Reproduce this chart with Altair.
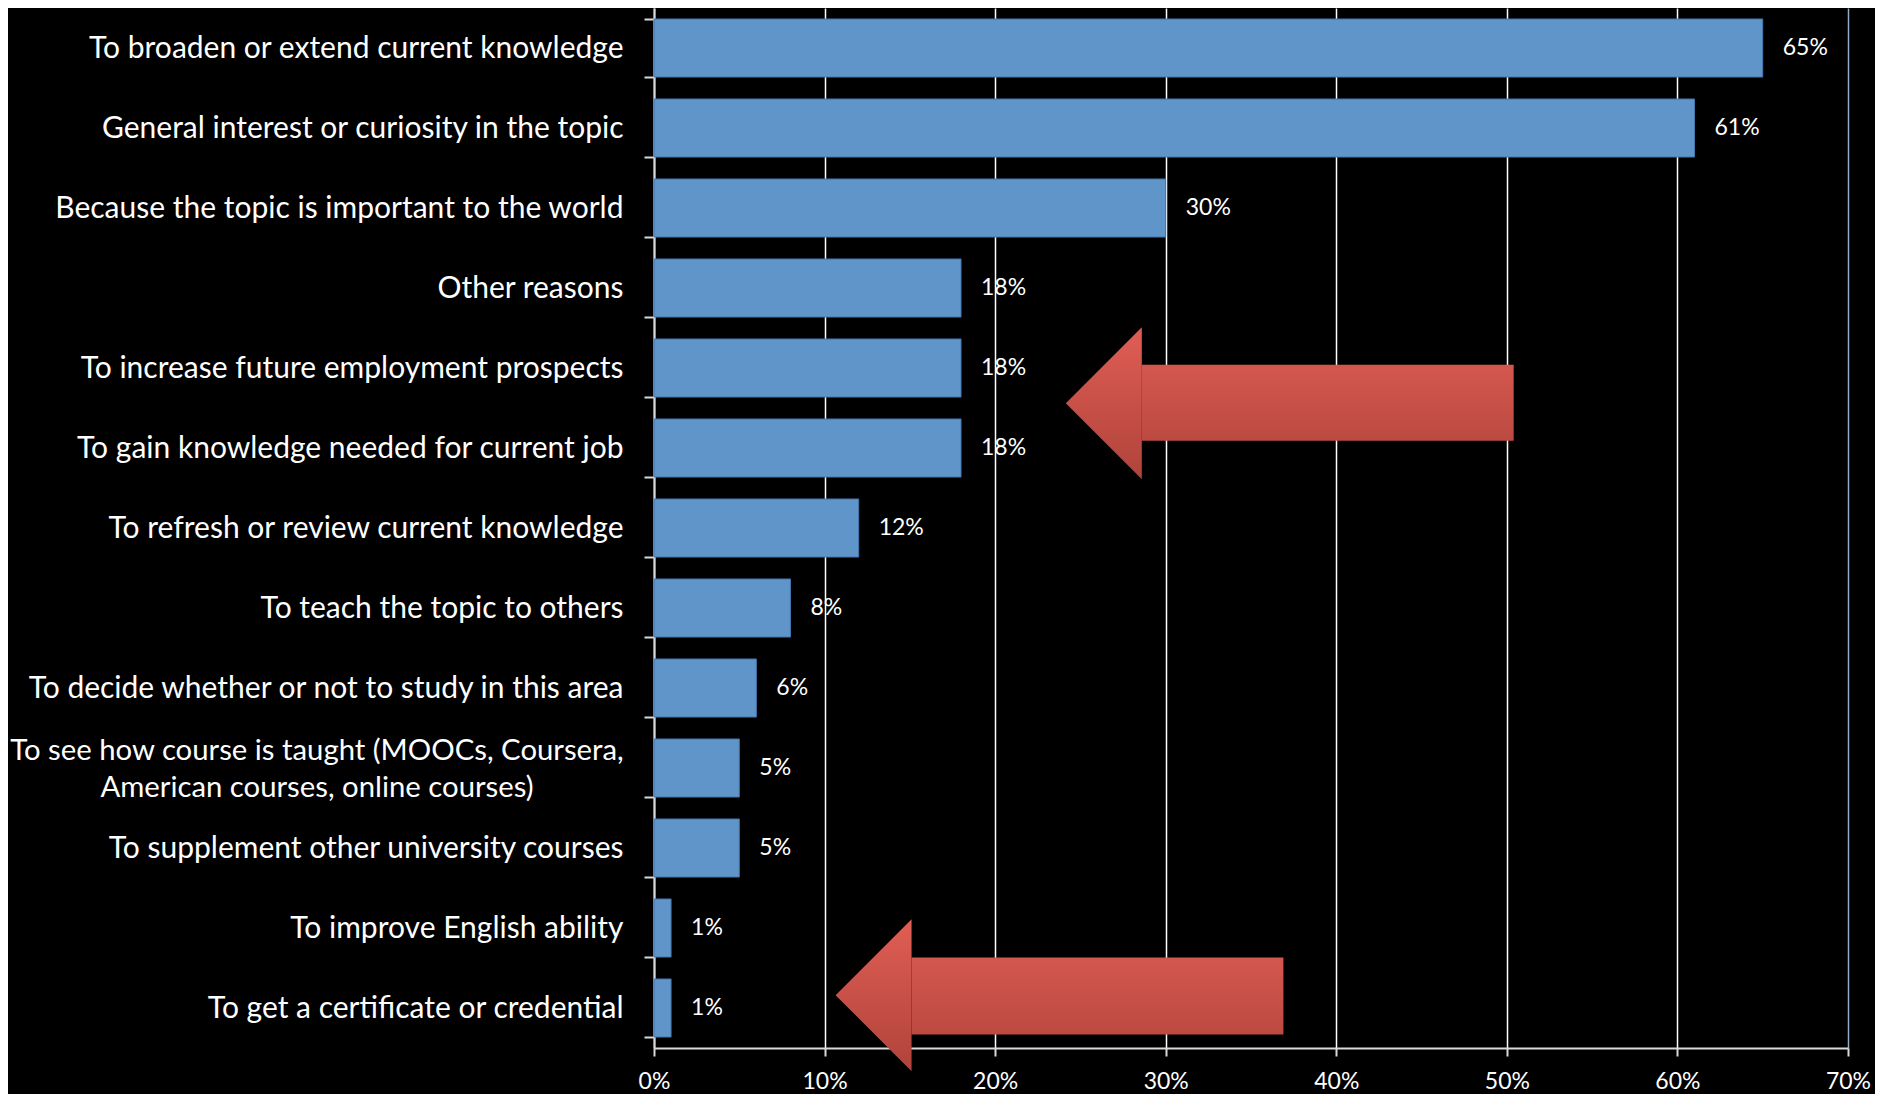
import altair as alt
import pandas as pd

categories = [
    "To broaden or extend current knowledge",
    "General interest or curiosity in the topic",
    "Because the topic is important to the world",
    "Other reasons",
    "To increase future employment prospects",
    "To gain knowledge needed for current job",
    "To refresh or review current knowledge",
    "To teach the topic to others",
    "To decide whether or not to study in this area",
    "To see how course is taught (MOOCs, Coursera,\nAmerican courses, online courses)",
    "To supplement other university courses",
    "To improve English ability",
    "To get a certificate or credential",
]
values = [0.65, 0.61, 0.30, 0.18, 0.18, 0.18, 0.12, 0.08, 0.06, 0.05, 0.05, 0.01, 0.01]
x_ticks = [0, 0.1, 0.2, 0.3, 0.4, 0.5, 0.6, 0.7]

# annotation arrows (pointing left): x in share units, y in row units (0 = top, 13 = bottom)
arrow_head_x = [0.286, 0.151]      # where the head meets the shaft
arrow_center_y = [4.94, 12.34]
arrow_right_x = [0.504, 0.369]
arrow_shaft_top = [4.46, 11.87]
arrow_shaft_bottom = [5.41, 12.83]

FONT = "Lato"
CAT_SIZE = 30
LONG_SIZE = 29.3
LONG_HALF_WIDTH = 306  # half the width of the first line of the two-line label
HEAD_PX = 152          # head height in pixels

df = pd.DataFrame({"cat": categories, "val": values})
long_df = df[df["cat"].str.contains("MOOCs")]
arrows = pd.DataFrame({
    "hx": arrow_head_x, "cy": arrow_center_y, "rx": arrow_right_x,
    "st": arrow_shaft_top, "sb": arrow_shaft_bottom,
})

xscale = alt.Scale(domain=[0, 0.7], nice=False, zero=True)
yscale = alt.Scale(domain=categories, paddingInner=0.275, paddingOuter=0.1375)
ascale = alt.Scale(domain=[0, 13], reverse=True, nice=False, zero=False)

x_axis = alt.Axis(
    values=x_ticks, format=".0%", title=None, labelFlush=False,
    labelColor="white", labelFont=FONT, labelFontSize=23, labelPadding=14,
    domainColor="#d9d9d9", domainWidth=2, tickColor="#d9d9d9", tickWidth=2, tickSize=8,
    grid=True,
    gridColor={"condition": {"test": "datum.value >= 0.69", "value": "#93abcb"}, "value": "white"},
    gridWidth=1.5,
)
y_axis = alt.Axis(
    title=None, tickBand="extent",
    labelExpr="indexof(datum.label, 'MOOCs') >= 0 ? '' : datum.label",
    labelColor="white", labelFont=FONT, labelFontSize=CAT_SIZE, labelLimit=900,
    labelAlign="right", labelPadding=21,
    domainColor="#d9d9d9", domainWidth=2, tickColor="#d9d9d9", tickWidth=2, tickSize=10,
    grid=False,
)

bars = alt.Chart(df).mark_bar(color="#5f95c9", stroke="#4677b0", strokeWidth=1).encode(
    x=alt.X("val:Q", scale=xscale, axis=x_axis),
    y=alt.Y("cat:N", sort=None, scale=yscale, axis=y_axis),
)

labels = alt.Chart(df).mark_text(align="left", baseline="middle", dx=20, color="white",
                                 font=FONT, fontSize=23).encode(
    x=alt.X("val:Q", scale=xscale, axis=x_axis),
    y=alt.Y("cat:N", sort=None, scale=yscale, axis=y_axis),
    text=alt.Text("val:Q", format=".0%"),
)

long_label = alt.Chart(long_df).mark_text(
    align="center", baseline="middle", color="white", font=FONT, fontSize=LONG_SIZE,
    lineBreak="\n", lineHeight=37, dy=-17,
).encode(
    x=alt.value(-31 - LONG_HALF_WIDTH),
    y=alt.Y("cat:N", sort=None, scale=yscale, axis=y_axis),
    text="cat:N",
)

head_grad = alt.Gradient(
    gradient="linear", x1=0, x2=0, y1=0, y2=1,
    stops=[alt.GradientStop(color="#e05e54", offset=0), alt.GradientStop(color="#b0433b", offset=1)],
)
shaft_grad = alt.Gradient(
    gradient="linear", x1=0, x2=0, y1=0, y2=1,
    stops=[alt.GradientStop(color="#d4574e", offset=0), alt.GradientStop(color="#bc4a41", offset=1)],
)

shaft = alt.Chart(arrows).mark_rect(fill=shaft_grad, strokeWidth=0).encode(
    x=alt.X("hx:Q", scale=xscale, axis=x_axis),
    x2="rx:Q",
    y=alt.Y("st:Q", scale=ascale, axis=None),
    y2="sb:Q",
)
head = alt.Chart(arrows).mark_point(
    shape="M -1 0 L 0 -1 L 0 1 Z", size=HEAD_PX * HEAD_PX, filled=True,
    fill=head_grad, opacity=1, strokeWidth=0,
).encode(
    x=alt.X("hx:Q", scale=xscale, axis=x_axis),
    y=alt.Y("cy:Q", scale=ascale, axis=None),
)

main = alt.layer(bars, labels, long_label)
arrow_layer = alt.layer(shaft, head)

chart = alt.layer(main, arrow_layer).resolve_scale(y="independent").properties(
    width=1194, height=1040, background="black",
    autosize=alt.AutoSizeParams(type="none"),
    padding={"left": 646, "top": 0, "right": 27, "bottom": 46},
).configure_view(stroke=None)

chart.save("out.html", embed_options={"renderer": "svg", "actions": False})
